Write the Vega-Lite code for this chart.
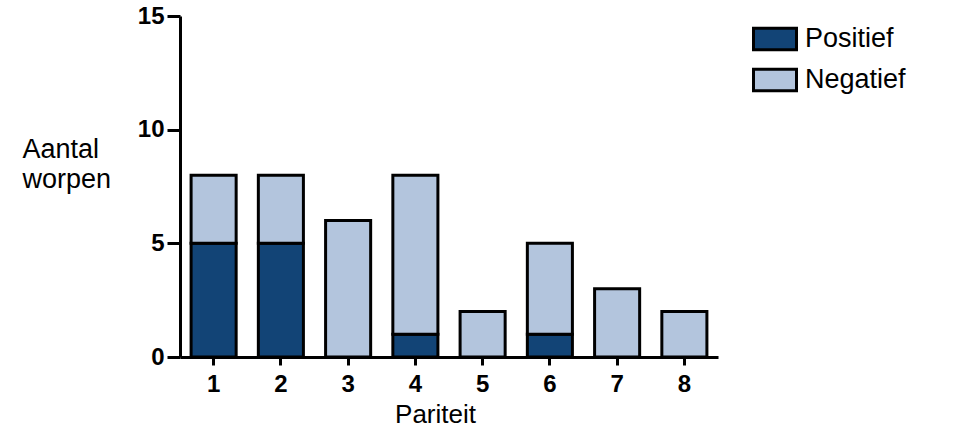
{
  "$schema": "https://vega.github.io/schema/vega-lite/v6.json",
  "width": 538,
  "height": 341,
  "autosize": {"type": "none"},
  "padding": {"left": 180, "top": 16, "right": 260, "bottom": 78},
  "background": "white",
  "config": {
    "view": {"stroke": null},
    "font": "Liberation Sans"
  },
  "data": {
    "values": [
      {"pariteit": "1", "uitslag": "Positief", "aantal": 5},
      {"pariteit": "1", "uitslag": "Negatief", "aantal": 3},
      {"pariteit": "2", "uitslag": "Positief", "aantal": 5},
      {"pariteit": "2", "uitslag": "Negatief", "aantal": 3},
      {"pariteit": "3", "uitslag": "Positief", "aantal": 0},
      {"pariteit": "3", "uitslag": "Negatief", "aantal": 6},
      {"pariteit": "4", "uitslag": "Positief", "aantal": 1},
      {"pariteit": "4", "uitslag": "Negatief", "aantal": 7},
      {"pariteit": "5", "uitslag": "Positief", "aantal": 0},
      {"pariteit": "5", "uitslag": "Negatief", "aantal": 2},
      {"pariteit": "6", "uitslag": "Positief", "aantal": 1},
      {"pariteit": "6", "uitslag": "Negatief", "aantal": 4},
      {"pariteit": "7", "uitslag": "Positief", "aantal": 0},
      {"pariteit": "7", "uitslag": "Negatief", "aantal": 3},
      {"pariteit": "8", "uitslag": "Positief", "aantal": 0},
      {"pariteit": "8", "uitslag": "Negatief", "aantal": 2}
    ]
  },
  "mark": {"type": "bar", "stroke": "black", "strokeWidth": 3, "strokeJoin": "miter"},
  "encoding": {
    "x": {
      "field": "pariteit",
      "type": "ordinal",
      "scale": {"paddingInner": 0.33, "paddingOuter": 0.165},
      "axis": {
        "title": "Pariteit",
        "titleFont": "Liberation Sans",
        "titleFontSize": 26,
        "titleFontWeight": "normal",
        "titleColor": "black",
        "titleX": 255,
        "titleY": 65,
        "titleBaseline": "alphabetic",
        "labelAngle": 0,
        "labelFont": "Liberation Sans",
        "labelFontSize": 24,
        "labelFontWeight": "bold",
        "labelColor": "black",
        "labelBaseline": "alphabetic",
        "labelPadding": 26,
        "tickSize": 8,
        "tickWidth": 3,
        "tickColor": "black",
        "domainWidth": 3,
        "domainColor": "black"
      }
    },
    "y": {
      "field": "aantal",
      "type": "quantitative",
      "stack": "zero",
      "scale": {"domain": [0, 15], "nice": false},
      "axis": {
        "values": [0, 5, 10, 15],
        "grid": false,
        "title": ["Aantal", "worpen"],
        "titleFont": "Liberation Sans",
        "titleFontSize": 27,
        "titleFontWeight": "normal",
        "titleColor": "black",
        "titleAngle": 0,
        "titleAlign": "left",
        "titleBaseline": "alphabetic",
        "titleX": -158,
        "titleY": 141,
        "titleLineHeight": 30,
        "labelFont": "Liberation Sans",
        "labelFontSize": 24,
        "labelFontWeight": "bold",
        "labelColor": "black",
        "labelPadding": 3,
        "tickSize": 13,
        "tickWidth": 3,
        "tickColor": "black",
        "domainWidth": 3,
        "domainColor": "black"
      }
    },
    "color": {
      "field": "uitslag",
      "type": "nominal",
      "sort": ["Positief", "Negatief"],
      "scale": {"domain": ["Positief", "Negatief"], "range": ["#124476", "#b3c5dd"]},
      "legend": {
        "title": null,
        "orient": "none",
        "legendX": 572,
        "legendY": 0,
        "symbolType": "M-1,-0.5H1V0.5H-1Z",
        "symbolSize": 1849,
        "symbolStrokeColor": "black",
        "symbolStrokeWidth": 3,
        "symbolOpacity": 1,
        "labelFont": "Liberation Sans",
        "labelFontSize": 27,
        "labelColor": "black",
        "labelOffset": 7,
        "rowPadding": 1
      }
    },
    "order": {"field": "uitslag", "sort": "descending"}
  }
}
